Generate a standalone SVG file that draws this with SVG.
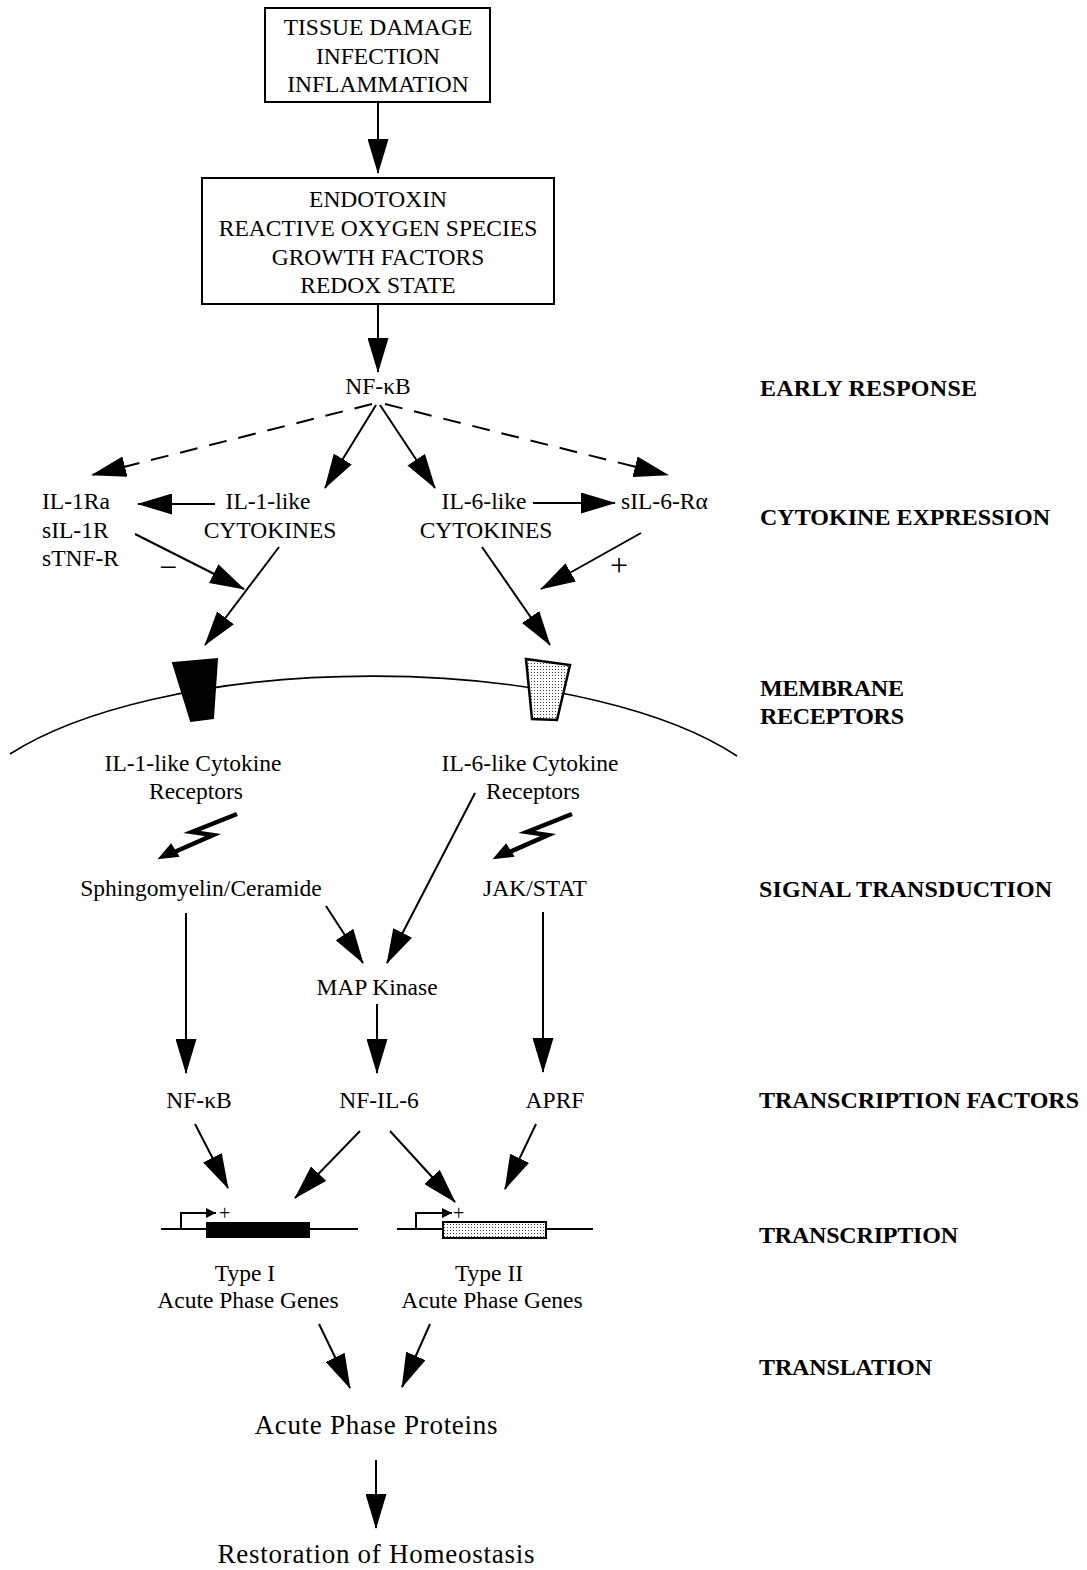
<svg xmlns="http://www.w3.org/2000/svg" width="1087" height="1570" viewBox="0 0 1087 1570">
<style>
text{font-family:"Liberation Serif","Times New Roman",serif;fill:#000}
.t{font-size:23.5px;text-anchor:middle}
.l{font-size:23.5px}
.lab{font-size:24px;font-weight:bold}
.big{font-size:27px;text-anchor:middle}
.sign{font-size:32px;text-anchor:middle}
.box{fill:#fff;stroke:#000;stroke-width:2}
.c{stroke:#000;stroke-width:2;fill:none;marker-end:url(#ah)}
.d{stroke-dasharray:18 12}
.bolt{stroke:#000;stroke-width:4.5;fill:none;stroke-linejoin:miter}
</style>
<defs>
<marker id="ah" markerUnits="userSpaceOnUse" markerWidth="35" markerHeight="21" viewBox="0 0 35 21" refX="34" refY="10.5" orient="auto">
<path d="M0,0 L35,10.5 L0,21 z" fill="#000"/>
</marker>
<marker id="sm" markerUnits="userSpaceOnUse" markerWidth="10" markerHeight="10" viewBox="0 0 10 10" refX="10" refY="5" orient="auto">
<path d="M0,0 L10,5 L0,10 z" fill="#000"/>
</marker>
<pattern id="dots" width="3" height="3" patternUnits="userSpaceOnUse">
<rect width="3" height="3" fill="#fff"/>
<rect width="1" height="1" fill="#444"/>
</pattern>
</defs>
<rect width="1087" height="1570" fill="#fff"/>

<g id="connectors">
<line class="c" x1="378" y1="102" x2="378" y2="173"/>
<line class="c" x1="378" y1="304" x2="378" y2="372"/>
<line class="c d" x1="372" y1="404" x2="92" y2="475"/>
<line class="c d" x1="385" y1="404" x2="668" y2="475"/>
<line class="c" x1="376" y1="405" x2="325" y2="488"/>
<line class="c" x1="380" y1="405" x2="435" y2="488"/>
<line class="c" x1="215" y1="504" x2="138" y2="504"/>
<line class="c" x1="533" y1="503" x2="615" y2="503"/>
<line class="c" x1="135" y1="534" x2="244" y2="589"/>
<line class="c" x1="641" y1="533" x2="541" y2="589"/>
<line class="c" x1="279" y1="547" x2="205" y2="645"/>
<line class="c" x1="482" y1="547" x2="550" y2="645"/>
<line class="c" x1="475" y1="793" x2="387" y2="963"/>
<line class="c" x1="326" y1="906" x2="363" y2="963"/>
<line class="c" x1="186" y1="913" x2="186" y2="1073"/>
<line class="c" x1="377" y1="1004" x2="377" y2="1073"/>
<line class="c" x1="543" y1="912" x2="543" y2="1072"/>
<line class="c" x1="195" y1="1124" x2="228" y2="1188"/>
<line class="c" x1="360" y1="1131" x2="295" y2="1198"/>
<line class="c" x1="390" y1="1131" x2="455" y2="1202"/>
<line class="c" x1="536" y1="1124" x2="505" y2="1189"/>
<line class="c" x1="319" y1="1324" x2="350" y2="1388"/>
<line class="c" x1="430" y1="1324" x2="402" y2="1387"/>
<line class="c" x1="376" y1="1460" x2="376" y2="1528"/>
<g id="bolt1">
<path class="bolt" d="M237,814 L192,832 L213,835 L170,854"/>
<path d="M160,858 L171,845 L178,856 z" fill="#000" stroke="#000" stroke-width="2"/>
</g>
<g id="bolt2" transform="translate(335,0)">
<path class="bolt" d="M237,814 L192,832 L213,835 L170,854"/>
<path d="M160,858 L171,845 L178,856 z" fill="#000" stroke="#000" stroke-width="2"/>
</g>
</g>

<g id="n-stimuli">
<rect class="box" x="265" y="8" width="225" height="94"/>
<text class="t" x="378" y="35">TISSUE DAMAGE</text>
<text class="t" x="378" y="64">INFECTION</text>
<text class="t" x="378" y="92">INFLAMMATION</text>
</g>
<g id="n-inducers">
<rect class="box" x="202" y="178" width="352" height="126"/>
<text class="t" x="378" y="207">ENDOTOXIN</text>
<text class="t" x="378" y="236">REACTIVE OXYGEN SPECIES</text>
<text class="t" x="378" y="265">GROWTH FACTORS</text>
<text class="t" x="378" y="293">REDOX STATE</text>
</g>
<g id="n-nfkb1"><text class="t" x="378" y="394">NF-κB</text></g>
<g id="n-antagonists">
<text class="l" x="42" y="509">IL-1Ra</text>
<text class="l" x="42" y="538">sIL-1R</text>
<text class="l" x="42" y="566">sTNF-R</text>
<text class="sign" x="168" y="578">−</text>
</g>
<g id="n-il1"><text class="t" x="268" y="509">IL-1-like</text><text class="t" x="270" y="538">CYTOKINES</text></g>
<g id="n-il6"><text class="t" x="484" y="509">IL-6-like</text><text class="t" x="486" y="538">CYTOKINES</text></g>
<g id="n-sil6r"><text class="l" x="621" y="509">sIL-6-Rα</text><text class="sign" x="619" y="576">+</text></g>

<g id="n-membrane">
<path d="M10,754 A420,158 0 0 1 737,756" fill="none" stroke="#000" stroke-width="1.6"/>
<polygon points="173,663 217,659 213,718 191,721" fill="#000" stroke="#000" stroke-width="2"/>
<polygon points="526,659 570,665 557,720 532,719" fill="url(#dots)" stroke="#000" stroke-width="2.5"/>
</g>
<g id="n-il1r"><text class="t" x="193" y="771">IL-1-like Cytokine</text><text class="t" x="196" y="799">Receptors</text></g>
<g id="n-il6r"><text class="t" x="530" y="771">IL-6-like Cytokine</text><text class="t" x="533" y="799">Receptors</text></g>
<g id="n-sphingo"><text class="t" x="201" y="896">Sphingomyelin/Ceramide</text></g>
<g id="n-jak"><text class="t" x="535" y="896">JAK/STAT</text></g>
<g id="n-map"><text class="t" x="377" y="995">MAP Kinase</text></g>
<g id="n-nfkb2"><text class="t" x="199" y="1108">NF-κB</text></g>
<g id="n-nfil6"><text class="t" x="379" y="1108">NF-IL-6</text></g>
<g id="n-aprf"><text class="t" x="555" y="1108">APRF</text></g>

<g id="n-gene1">
<line x1="161" y1="1229" x2="358" y2="1229" stroke="#000" stroke-width="2"/>
<rect x="206" y="1222" width="104" height="16" fill="#000"/>
<path d="M181,1229 V1213 H216" fill="none" stroke="#000" stroke-width="2" marker-end="url(#sm)"/>
<text x="219" y="1220" style="font-size:20px">+</text>
<text class="t" x="245" y="1281">Type I</text>
<text class="t" x="248" y="1308">Acute Phase Genes</text>
</g>
<g id="n-gene2">
<line x1="397" y1="1229" x2="593" y2="1229" stroke="#000" stroke-width="2"/>
<rect x="443" y="1222" width="103" height="16" fill="url(#dots)" stroke="#000" stroke-width="2"/>
<path d="M416,1229 V1213 H452" fill="none" stroke="#000" stroke-width="2" marker-end="url(#sm)"/>
<text x="453" y="1220" style="font-size:20px">+</text>
<text class="t" x="489" y="1281">Type II</text>
<text class="t" x="492" y="1308">Acute Phase Genes</text>
</g>
<g id="n-app"><text class="big" x="376" y="1434" textLength="243" lengthAdjust="spacing">Acute Phase Proteins</text></g>
<g id="n-homeo"><text class="big" x="376" y="1563" textLength="317" lengthAdjust="spacing">Restoration of Homeostasis</text></g>

<g id="labels">
<text class="lab" x="760" y="396" textLength="217" lengthAdjust="spacing">EARLY RESPONSE</text>
<text class="lab" x="760" y="525" textLength="290" lengthAdjust="spacing">CYTOKINE  EXPRESSION</text>
<text class="lab" x="760" y="696" textLength="144" lengthAdjust="spacing">MEMBRANE</text>
<text class="lab" x="760" y="724" textLength="144" lengthAdjust="spacing">RECEPTORS</text>
<text class="lab" x="759" y="897" textLength="293" lengthAdjust="spacing">SIGNAL TRANSDUCTION</text>
<text class="lab" x="759" y="1108" textLength="320" lengthAdjust="spacing">TRANSCRIPTION FACTORS</text>
<text class="lab" x="759" y="1243" textLength="199" lengthAdjust="spacing">TRANSCRIPTION</text>
<text class="lab" x="759" y="1375" textLength="173" lengthAdjust="spacing">TRANSLATION</text>
</g>
</svg>
